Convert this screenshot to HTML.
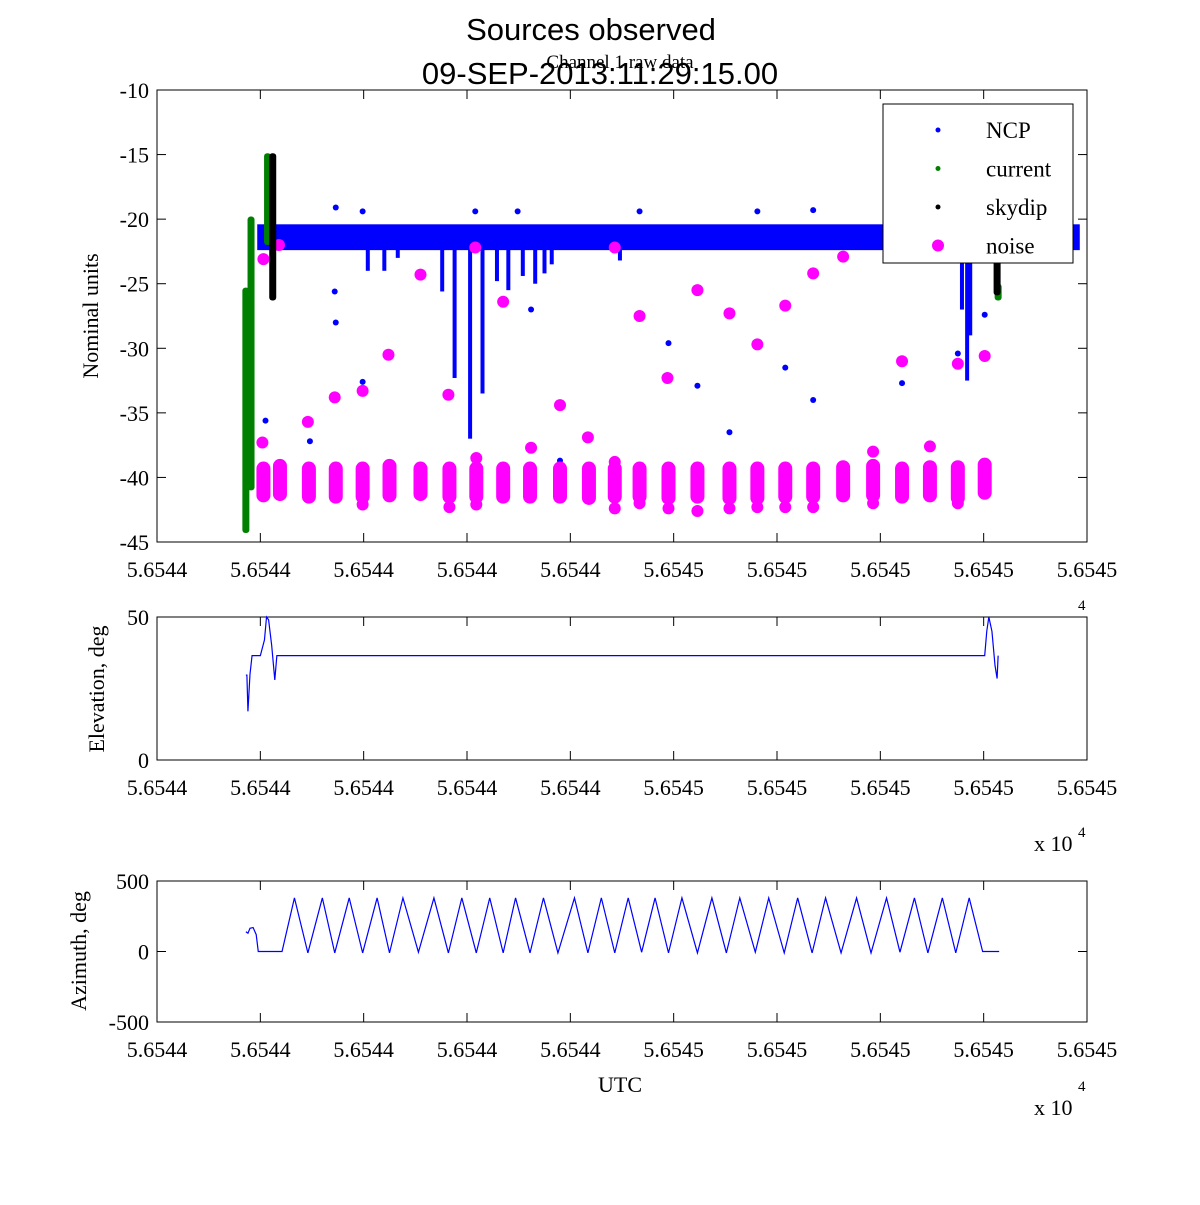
<!DOCTYPE html>
<html><head><meta charset="utf-8"><style>
body{margin:0;background:#fff;}
svg text{font-family:"Liberation Serif",serif;}
</style></head><body>
<svg id="chart" width="1200" height="1200" viewBox="0 0 1200 1200" xmlns="http://www.w3.org/2000/svg">
<rect width="1200" height="1200" fill="#fff"/>
<text x="591" y="40" font-size="31" text-anchor="middle" style="font-family:'Liberation Sans',sans-serif">Sources observed</text>
<text x="620" y="68" font-size="19" text-anchor="middle">Channel 1 raw data</text>
<text x="600" y="84" font-size="31" text-anchor="middle" style="font-family:'Liberation Sans',sans-serif">09-SEP-2013:11:29:15.00</text>
<g id="g"></g>
</svg>
<script>
// ---- data ----
const xTickLabels=["5.6544","5.6544","5.6544","5.6544","5.6544","5.6545","5.6545","5.6545","5.6545","5.6545"];
const mainYTicks=[-10,-15,-20,-25,-30,-35,-40,-45];
const elevYTicks=[0,50];
const azYTicks=[500,0,-500];
// NCP band
const bandStart=[0.97];const bandEnd=[8.93];const bandTop=[-20.4];const bandBottom=[-22.4];
const spikeU=[2.04,2.20,2.33,2.76,2.88,3.03,3.15,3.29,3.40,3.54,3.66,3.75,3.82,4.48,7.79,7.84,7.87];
const spikeBottom=[-24.0,-24.0,-23.0,-25.6,-32.3,-37.0,-33.5,-24.8,-25.5,-24.4,-25.0,-24.2,-23.5,-23.2,-27.0,-32.5,-29.0];
const ncpU=[1.73,1.99,3.08,3.49,4.67,5.81,6.35,1.73,1.72,1.99,1.05,1.48,3.62,4.95,5.23,5.54,6.08,6.35,7.21,7.75,8.01,3.90];
const ncpV=[-19.1,-19.4,-19.4,-19.4,-19.4,-19.4,-19.3,-28.0,-25.6,-32.6,-35.6,-37.2,-27.0,-29.6,-32.9,-36.5,-31.5,-34.0,-32.7,-30.4,-27.4,-38.7];
// current (green) and skydip (black) vertical runs
const curU=[0.86,0.91,1.07,8.14];const curTop=[-25.3,-19.8,-14.9,-25.0];const curBottom=[-44.3,-41.0,-22.0,-26.3];
const skyU=[1.12,8.13];const skyTop=[-14.9,-22.0];const skyBottom=[-26.3,-25.9];
// noise
const clusterU=[1.03,1.19,1.47,1.73,1.99,2.25,2.55,2.83,3.09,3.35,3.61,3.90,4.18,4.43,4.67,4.95,5.23,5.54,5.81,6.08,6.35,6.64,6.93,7.21,7.48,7.75,8.01];
const clusterTop=[-39.0,-38.8,-39.0,-39.0,-39.0,-38.8,-39.0,-39.0,-39.0,-39.0,-39.0,-39.0,-39.0,-39.0,-39.0,-39.0,-39.0,-39.0,-39.0,-39.0,-39.0,-38.9,-38.8,-39.0,-38.9,-38.9,-38.7];
const clusterBottom=[-41.7,-41.6,-41.8,-41.8,-41.8,-41.7,-41.6,-41.8,-41.8,-41.8,-41.8,-41.8,-41.9,-41.8,-41.8,-41.9,-41.8,-41.9,-41.9,-41.8,-41.8,-41.7,-41.7,-41.8,-41.7,-41.9,-41.5];
const noiseU=[1.02,1.03,1.18,1.46,1.72,1.99,2.24,2.55,2.82,3.08,3.35,3.62,3.90,4.17,4.43,4.67,4.94,5.23,5.54,5.81,6.08,6.35,6.64,6.93,7.21,7.48,7.75,8.01,1.99,2.83,3.09,4.43,4.67,4.95,5.23,5.54,5.81,6.08,6.35,6.93,7.75,3.09,4.43];
const noiseV=[-37.3,-23.1,-22.0,-35.7,-33.8,-33.3,-30.5,-24.3,-33.6,-22.2,-26.4,-37.7,-34.4,-36.9,-22.2,-27.5,-32.3,-25.5,-27.3,-29.7,-26.7,-24.2,-22.9,-38.0,-31.0,-37.6,-31.2,-30.6,-42.1,-42.3,-42.1,-42.4,-42.0,-42.4,-42.6,-42.4,-42.3,-42.3,-42.3,-42.0,-42.0,-38.5,-38.8];
// elevation
const elU=[0.86,0.87,0.88,0.90,0.92,0.98,1.00,1.04,1.06,1.08,1.11,1.14,1.16,8.01,8.03,8.05,8.08,8.11,8.13,8.14];
const elV=[29.7,29.7,17,30,36.5,36.5,36.5,42,50,49,40,28,36.5,36.5,45,50,45,33,28.5,36.5];
// azimuth
const azStartU=[0.86,0.88,0.90,0.93,0.96,0.98];const azStartV=[140,130,165,170,120,0];
const troughU=[1.21,1.46,1.72,1.99,2.25,2.53,2.82,3.09,3.35,3.61,3.88,4.17,4.43,4.69,4.95,5.23,5.51,5.79,6.07,6.34,6.62,6.91,7.19,7.46,7.73,7.99];
const troughV=[0,-10,-10,-10,-10,-5,-10,-10,-10,-10,-10,-10,-10,-5,-10,-10,-10,-5,-10,-10,-10,-10,-5,-10,-10,0];
const peakU=[1.33,1.60,1.86,2.13,2.38,2.68,2.95,3.22,3.47,3.74,4.04,4.30,4.56,4.82,5.08,5.37,5.64,5.92,6.20,6.47,6.77,7.06,7.33,7.60,7.86];
const peakV=[380,380,380,380,380,380,380,380,380,380,380,380,380,380,380,380,380,380,380,380,380,380,380,380,380];
const azEndU=[8.15];const azEndV=[0];

// ---- drawing ----
const NS="http://www.w3.org/2000/svg";
const G=document.getElementById('g');
function mk(t,a,p){const e=document.createElementNS(NS,t);for(const k in a)e.setAttribute(k,a[k]);(p||G).appendChild(e);return e;}
const L=157,R=1087;
const X=u=>L+u*(R-L)/9;
const axesDef={main:{t:90,b:542,min:-45,max:-10},el:{t:617,b:760,min:0,max:50},az:{t:881,b:1022,min:-500,max:500}};
const Y=(ax,v)=>{const a=axesDef[ax];return a.b-(v-a.min)/(a.max-a.min)*(a.b-a.t);};

function drawAxes(ax,yt,name){
  const a=axesDef[ax];
  let r=mk('rect',{x:L,y:a.t,width:R-L,height:a.b-a.t,fill:'none',stroke:'#000','stroke-width':1});
  
  
  for(let k=0;k<xTickLabels.length;k++){
    const x=X(k);
    mk('line',{x1:x,x2:x,y1:a.b,y2:a.b-9,stroke:'#000'});
    mk('line',{x1:x,x2:x,y1:a.t,y2:a.t+9,stroke:'#000'});
    const t=mk('text',{x:x,y:a.b+35,'font-size':22,'text-anchor':'middle'});
    t.textContent=xTickLabels[k];
    
    
  }
  yt.forEach(v=>{
    const y=Y(ax,v);
    mk('line',{x1:L,x2:L+9,y1:y,y2:y,stroke:'#000'});
    mk('line',{x1:R,x2:R-9,y1:y,y2:y,stroke:'#000'});
    const t=mk('text',{x:L-8,y:y+8,'font-size':22,'text-anchor':'end'});
    t.textContent=String(v);
    
    
  });
}
drawAxes('main',mainYTicks,'main');
drawAxes('el',elevYTicks,'elevation');
drawAxes('az',azYTicks,'azimuth');

// NCP band
for(let i=0;i<bandStart.length;i++){
  const r=mk('rect',{x:X(bandStart[i]),y:Y('main',bandTop[i]),width:X(bandEnd[i])-X(bandStart[i]),height:Y('main',bandBottom[i])-Y('main',bandTop[i]),fill:'#0000ff'});
  
  
}
for(let i=0;i<spikeU.length;i++){
  const r=mk('rect',{x:X(spikeU[i])-2,y:Y('main',bandBottom[0])-2,width:4,height:Y('main',spikeBottom[i])-Y('main',bandBottom[0])+2,fill:'#0000ff'});
  
  
}
for(let i=0;i<ncpU.length;i++){
  const c=mk('circle',{cx:X(ncpU[i]),cy:Y('main',ncpV[i]),r:3,fill:'#0000ff'});
  
  
}
// noise clusters
for(let i=0;i<clusterU.length;i++){
  const y1=Y('main',clusterTop[i]),y2=Y('main',clusterBottom[i]);
  const r=mk('rect',{x:X(clusterU[i])-7,y:y1-3,width:14,height:y2-y1+6,rx:7,fill:'#ff00ff'});
  
  
}
for(let i=0;i<noiseU.length;i++){
  const c=mk('circle',{cx:X(noiseU[i]),cy:Y('main',noiseV[i]),r:6,fill:'#ff00ff'});
  
  
}
// current & skydip
for(let i=0;i<curU.length;i++){
  const y1=Y('main',curTop[i]),y2=Y('main',curBottom[i]);
  const r=mk('rect',{x:X(curU[i])-3.5,y:y1,width:7,height:y2-y1,rx:3,fill:'#008000'});
  
  
}
for(let i=0;i<skyU.length;i++){
  const y1=Y('main',skyTop[i]),y2=Y('main',skyBottom[i]);
  const r=mk('rect',{x:X(skyU[i])-3.5,y:y1,width:7,height:y2-y1,rx:3,fill:'#000'});
  
  
}
// legend
const lg=mk('g',{});


mk('rect',{x:883,y:104,width:190,height:159,fill:'#fff',stroke:'#000'},lg);
const legNames=["NCP","current","skydip","noise"];const legCols=["#0000ff","#008000","#000","#ff00ff"];
legNames.forEach((n,i)=>{
  const y=130+i*38.5;
  const m=mk('circle',{cx:938,cy:y,r:i==3?6:2.5,fill:legCols[i]},lg);
  
  
  const t=mk('text',{x:986,y:y+8,'font-size':23},lg);
  t.textContent=n;
  
  
});
// elevation line
let pts=elU.map((u,i)=>X(u)+','+Y('el',elV[i]));
const el1=mk('polyline',{points:pts.join(' '),fill:'none',stroke:'#0000ff','stroke-width':1.2});


// azimuth line
let ap=[];
azStartU.forEach((u,i)=>ap.push([u,azStartV[i]]));
for(let i=0;i<troughU.length;i++){ap.push([troughU[i],troughV[i]]);if(i<peakU.length)ap.push([peakU[i],peakV[i]]);}
azEndU.forEach((u,i)=>ap.push([u,azEndV[i]]));
const az1=mk('polyline',{points:ap.map(p=>X(p[0])+','+Y('az',p[1])).join(' '),fill:'none',stroke:'#0000ff','stroke-width':1.2});


// axis titles
function txt(s,a,name){const t=mk('text',a);t.textContent=s;return t;}
txt('Nominal units',{x:0,y:0,'font-size':22,'text-anchor':'middle',transform:'translate(98,316) rotate(-90)'},'main-y-axis-title');
txt('Elevation, deg',{x:0,y:0,'font-size':22,'text-anchor':'middle',transform:'translate(104,689) rotate(-90)'},'elevation-y-axis-title');
txt('Azimuth, deg',{x:0,y:0,'font-size':22,'text-anchor':'middle',transform:'translate(86,951) rotate(-90)'},'azimuth-y-axis-title');
txt('UTC',{x:620,y:1092,'font-size':22,'text-anchor':'middle'},'x-axis-title');
txt('x 10',{x:1034,y:851,'font-size':22},'elevation-x-exponent');
txt('4',{x:1078,y:610,'font-size':15},'main-x-exponent');
txt('4',{x:1078,y:837,'font-size':15},'elevation-x-exponent-power');
txt('x 10',{x:1034,y:1115,'font-size':22},'azimuth-x-exponent');
txt('4',{x:1078,y:1091,'font-size':15},'azimuth-x-exponent-power');
</script>
</body></html>
